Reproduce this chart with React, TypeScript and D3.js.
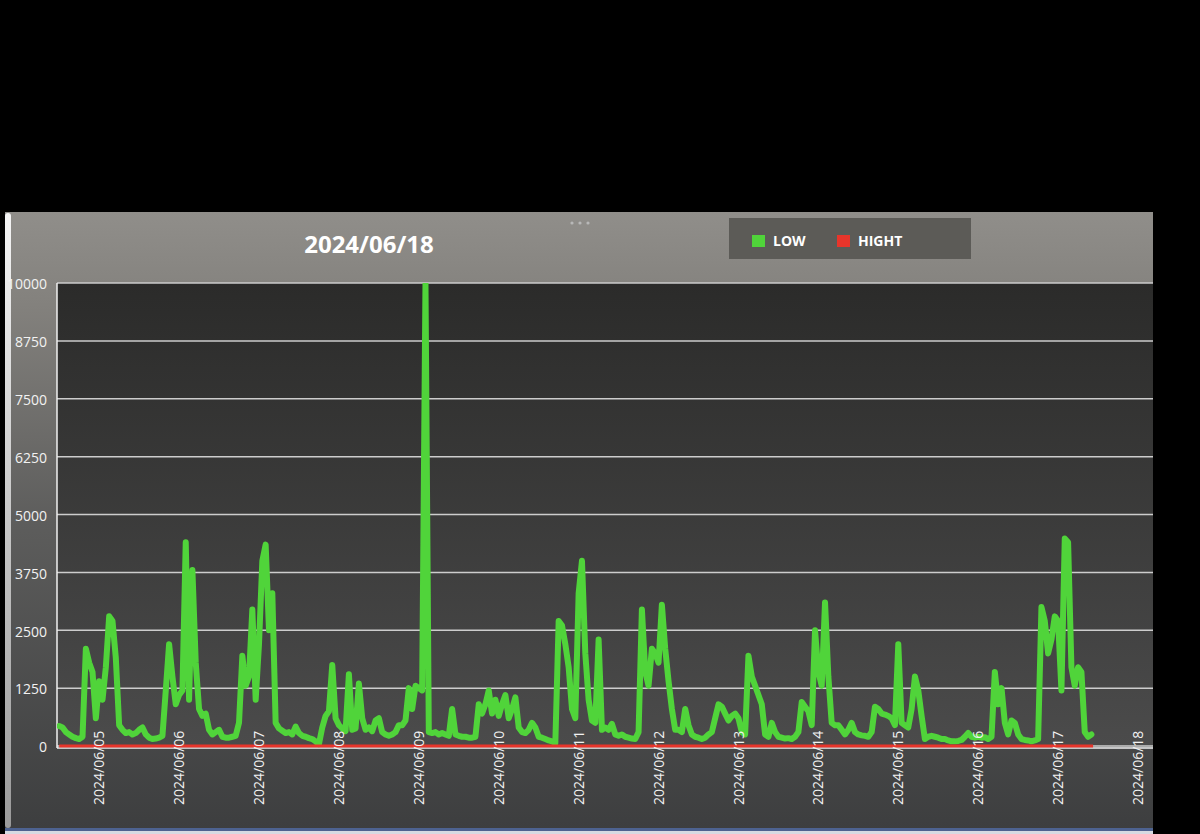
import React from "react";
import * as d3 from "d3";

const title = "2024/06/18";
const seriesNames = ["LOW", "HIGHT"];
const seriesColors = ["#50d43a", "#e8352b"];
const yTicks = [0, 1250, 2500, 3750, 5000, 6250, 7500, 8750, 10000];
const dayTicks = [
  "2024/06/05", "2024/06/06", "2024/06/07", "2024/06/08", "2024/06/09",
  "2024/06/10", "2024/06/11", "2024/06/12", "2024/06/13", "2024/06/14",
  "2024/06/15", "2024/06/16", "2024/06/17", "2024/06/18",
];

// LOW, hourly readings starting 2024-06-04 12:00
const lowStart = "2024-06-04T12:00:00";
const low0604 = [430, 400, 300, 250, 200, 170, 150, 200, 2100, 1800, 1600, 600];
const low0605 = [1400, 1000, 1700, 2800, 2700, 1900, 450, 350, 280, 300, 250, 280, 350, 400, 250, 180, 150, 160, 180, 220, 1200, 2200, 1500, 900];
const low0606 = [1100, 1200, 4400, 1000, 3800, 1800, 800, 650, 700, 350, 250, 300, 350, 200, 180, 180, 200, 220, 500, 1950, 1300, 1500, 2950, 1000];
const low0607 = [2200, 4000, 4350, 2500, 3300, 500, 380, 330, 280, 300, 250, 420, 280, 220, 200, 170, 150, 100, 40, 400, 650, 750, 1750, 600];
const low0608 = [450, 380, 320, 1550, 350, 380, 1350, 600, 350, 400, 320, 550, 600, 300, 250, 220, 250, 300, 450, 450, 550, 1250, 800, 1300];
const low0609 = [1250, 1200, 10000, 300, 280, 300, 250, 280, 250, 220, 800, 250, 220, 200, 200, 180, 180, 200, 900, 700, 900, 1200, 700, 1000];
const low0610 = [650, 900, 1100, 600, 800, 1050, 400, 300, 280, 350, 500, 400, 200, 180, 150, 120, 100, 60, 2700, 2600, 2200, 1700, 800, 600];
const low0611 = [3300, 4000, 2000, 1000, 550, 500, 2300, 350, 400, 350, 480, 250, 220, 250, 200, 180, 160, 150, 300, 2950, 1600, 1300, 2100, 2000];
const low0612 = [1800, 3050, 2100, 1400, 800, 350, 350, 300, 800, 450, 250, 200, 180, 150, 180, 250, 300, 600, 900, 850, 700, 550, 650, 700];
const low0613 = [600, 300, 250, 1950, 1500, 1300, 1100, 900, 250, 200, 500, 300, 200, 180, 160, 170, 150, 200, 300, 950, 850, 750, 450, 2500];
const low0614 = [1600, 1300, 3100, 1500, 500, 450, 450, 350, 250, 350, 500, 300, 250, 230, 220, 200, 300, 850, 800, 700, 680, 650, 600, 450];
const low0615 = [2200, 500, 450, 400, 800, 1500, 1200, 650, 150, 200, 220, 200, 180, 150, 150, 120, 100, 100, 110, 130, 200, 280, 200, 180];
const low0616 = [200, 180, 190, 150, 200, 1600, 900, 1250, 500, 250, 550, 500, 250, 150, 130, 120, 100, 120, 150, 3000, 2700, 2000, 2300, 2800];
const low0617 = [2700, 1200, 4480, 4400, 1700, 1300, 1700, 1600, 300, 200, 250];

// HIGHT stays flat on zero
const hightTimes = ["2024-06-04T12:00:00", "2024-06-17T10:30:00"];
const hightValues = [0, 0];

const W = 1200;
const H = 834;
const font = "'Open Sans', 'Noto Sans', sans-serif";

export default function App() {
  const lowValues = [
    ...low0604, ...low0605, ...low0606, ...low0607, ...low0608, ...low0609, ...low0610,
    ...low0611, ...low0612, ...low0613, ...low0614, ...low0615, ...low0616, ...low0617,
  ];
  const t0 = new Date(lowStart);
  const low = lowValues.map((v, i) => ({ t: d3.timeHour.offset(t0, i), v }));
  const hight = hightTimes.map((t, i) => ({ t: new Date(t), v: hightValues[i] }));

  const left = 57, right = 1153, top = 283, bottom = 746;
  const x = d3.scaleTime(
    [new Date("2024-06-04T11:20:00"), new Date("2024-06-18T04:30:00")],
    [left, right]
  );
  const y = d3.scaleLinear([0, 10000], [bottom, top]);
  const line = d3
    .line<{ t: Date; v: number }>()
    .x((d) => x(d.t))
    .y((d) => y(d.v));
  const parseDay = d3.timeParse("%Y/%m/%d");

  return (
    <div style={{ position: "fixed", left: 0, top: 0 }}>
      <svg width={W} height={H} style={{ display: "block" }} fontFamily={font}>
        <defs>
          <linearGradient id="panel" x1="0" y1="0" x2="0" y2="1">
            <stop offset="0" stopColor="#908e8a" />
            <stop offset="0.15" stopColor="#83817d" />
            <stop offset="0.5" stopColor="#5d5d5c" />
            <stop offset="1" stopColor="#3d3e3f" />
          </linearGradient>
          <linearGradient id="plot" x1="0" y1="0" x2="0" y2="1">
            <stop offset="0" stopColor="#2b2b2a" />
            <stop offset="1" stopColor="#4b4b4b" />
          </linearGradient>
          <linearGradient id="edge" x1="0" y1="0" x2="0" y2="1">
            <stop offset="0" stopColor="#f4f4f4" />
            <stop offset="1" stopColor="#9a9a9a" />
          </linearGradient>
        </defs>
        <rect width={W} height={H} fill="#000" />
        <rect x={5} y={212} width={right - 5} height={618} fill="url(#panel)" />
        <rect x={5} y={828} width={right - 5} height={3} fill="#4d6290" />
        <rect x={5} y={831} width={right - 5} height={3} fill="#d6dae2" />
        <rect x={5} y={213} width={6} height={615} rx={3} fill="url(#edge)" />

        {/* drag handle */}
        {[572, 580, 588].map((cx) => (
          <circle key={cx} cx={cx} cy={223} r={1.6} fill="#b8b8b8" />
        ))}

        <text x={369} y={253} textAnchor="middle" fontSize={24} fontWeight="bold" fill="#fff">
          {title}
        </text>

        {/* legend */}
        <rect x={729} y={218} width={242} height={41} fill="#5c5b57" />
        {seriesNames.map((name, i) => {
          const lx = i === 0 ? 752 : 837;
          return (
            <g key={name}>
              <rect x={lx} y={235} width={13} height={12} fill={seriesColors[i]} />
              <text x={lx + 21} y={246} fontSize={14} fontWeight="bold" fill="#fff">
                {name}
              </text>
            </g>
          );
        })}

        <rect x={left} y={top} width={right - left} height={bottom - top} fill="url(#plot)" />
        {yTicks.map((v) => (
          <line key={v} x1={left} x2={right} y1={y(v)} y2={y(v)} stroke="#cdcdcd" strokeWidth={1.5} />
        ))}
        <line x1={left} x2={left} y1={top} y2={bottom + 2} stroke="#f0f0f0" strokeWidth={1.5} />
        <line x1={left} x2={right} y1={bottom + 2} y2={bottom + 2} stroke="#f0f0f0" strokeWidth={1.5} />

        <clipPath id="clip">
          <rect x={left} y={top} width={right - left} height={bottom - top + 10} />
        </clipPath>
        <g clipPath="url(#clip)">
          <path d={line(low) ?? ""} fill="none" stroke={seriesColors[0]} strokeWidth={6} strokeLinejoin="round" strokeLinecap="round" />
          <path d={line(hight) ?? ""} fill="none" stroke={seriesColors[1]} strokeWidth={3} />
        </g>

        {yTicks.map((v) => (
          <text key={v} x={47} y={y(v)} dy="0.45em" textAnchor="end" fontSize={14} fill="#f2f2f2">
            {v}
          </text>
        ))}

        {dayTicks.map((d) => {
          const tx = x(parseDay(d) as Date);
          return (
            <text
              key={d}
              transform={`translate(${tx},805) rotate(-90)`}
              dy="0.36em"
              fontSize={14}
              fill="#f2f2f2"
            >
              {d}
            </text>
          );
        })}
      </svg>
    </div>
  );
}
